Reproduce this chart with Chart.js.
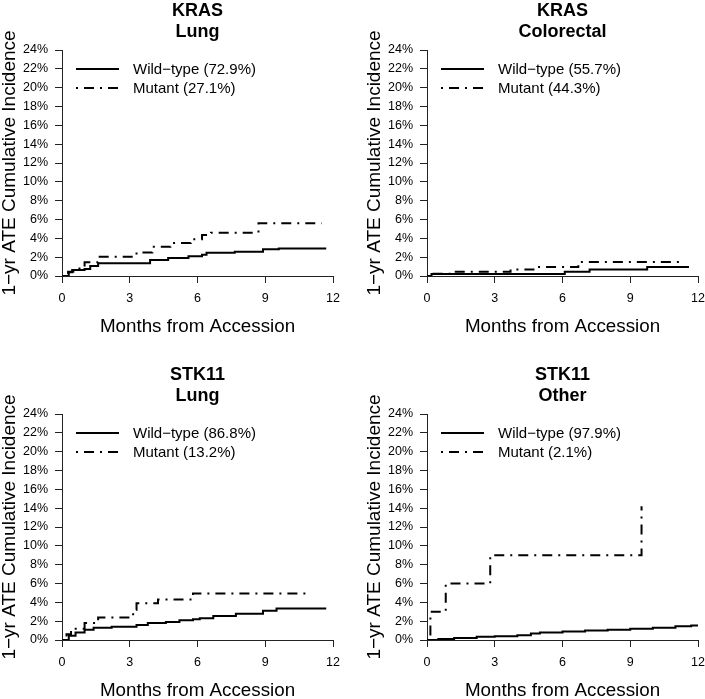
<!DOCTYPE html>
<html>
<head>
<meta charset="utf-8">
<script src="https://cdn.jsdelivr.net/npm/chart.js@4.4.1/dist/chart.umd.min.js"></script>
<style>
  html, body { margin: 0; padding: 0; background: #fff; overflow: hidden; width: 705px; height: 699px; }
  canvas { position: absolute; }
</style>
</head>
<body>
<canvas id="c1" width="365" height="364" style="left:0;top:0"></canvas>
<canvas id="c2" width="365" height="364" style="left:365px;top:0"></canvas>
<canvas id="c3" width="365" height="364" style="left:0;top:364px"></canvas>
<canvas id="c4" width="365" height="364" style="left:365px;top:364px"></canvas>
<script>
// ---- data (months, cumulative incidence %) ----
const xTicks = [0, 3, 6, 9, 12];
const yTickStep = 2;
const yMax = 24;

const krasLungWild   = [[0,0],[0.3,0.4],[0.45,0.65],[1.0,0.75],[1.25,1.05],[1.6,1.35],[3.9,1.7],[4.7,1.9],[5.6,2.1],[6.2,2.25],[6.4,2.47],[7.65,2.58],[8.9,2.83],[9.6,2.93],[11.7,2.93]];
const krasLungMutant = [[0,0],[0.27,0.46],[0.5,0.8],[1.0,1.45],[1.6,2.05],[3.3,2.5],[4.0,3.1],[4.8,3.5],[5.7,3.9],[6.2,4.35],[6.6,4.6],[8.7,5.6],[11.5,5.6]];

const krasCrcWild    = [[0,0],[0.2,0.2],[6.1,0.45],[7.2,0.7],[9.75,0.95],[11.6,0.95]];
const krasCrcMutant  = [[0,0],[0.2,0.25],[1.2,0.45],[3.7,0.7],[4.8,0.95],[6.7,1.5],[11.3,1.5]];

const stkLungWild    = [[0,0],[0.3,0.45],[0.6,0.8],[1.0,1.1],[1.4,1.3],[2.2,1.4],[3.3,1.6],[3.8,1.8],[4.6,1.9],[5.2,2.1],[5.8,2.2],[6.1,2.3],[6.7,2.55],[7.7,2.8],[8.9,3.1],[9.5,3.35],[11.7,3.35]];
const stkLungMutant  = [[0,0],[0.2,0.6],[0.4,1.2],[1.0,1.8],[1.6,2.4],[3.15,3.2],[3.3,3.9],[4.25,4.3],[5.8,4.95],[11.0,4.95]];

const stkOtherWild   = [[0,0],[0.5,0.1],[1.2,0.2],[2.2,0.35],[3.0,0.4],[4.0,0.5],[4.6,0.7],[5.0,0.8],[6.0,0.9],[7.0,1.0],[8.0,1.1],[9.0,1.2],[10.0,1.3],[11.0,1.45],[11.7,1.55],[12.0,1.65]];
const stkOtherMutant = [[0,0],[0.15,3.0],[0.83,6.0],[2.8,9.0],[9.5,14.2]];

const panelTitles = [["KRAS","Lung"],["KRAS","Colorectal"],["STK11","Lung"],["STK11","Other"]];
const legendWild   = ["Wild\u2212type (72.9%)","Wild\u2212type (55.7%)","Wild\u2212type (86.8%)","Wild\u2212type (97.9%)"];
const legendMutant = ["Mutant (27.1%)","Mutant (44.3%)","Mutant (13.2%)","Mutant (2.1%)"];
const xTitle = "Months from Accession";
const yTitle = "1\u2212yr ATE Cumulative Incidence";

const panelData = [
  [krasLungWild, krasLungMutant],
  [krasCrcWild, krasCrcMutant],
  [stkLungWild, stkLungMutant],
  [stkOtherWild, stkOtherMutant]
];

const FONT = "'Liberation Sans', Arial, Helvetica, sans-serif";
const DASH = [2, 6, 10, 6];

function toPts(arr) { return arr.map(p => ({x: p[0], y: p[1]})); }

function textPlugin(idx) {
  return {
    id: 'texts' + idx,
    afterDraw(chart) {
      const ctx = chart.ctx;
      const a = chart.chartArea;
      const cx = (a.left + a.right) / 2;
      ctx.save();
      ctx.fillStyle = '#000';
      // titles
      ctx.font = "bold 18px " + FONT;
      ctx.textAlign = 'center';
      ctx.textBaseline = 'middle';
      ctx.fillText(panelTitles[idx][0], cx, 11);
      ctx.fillText(panelTitles[idx][1], cx, 32);
      // x title
      ctx.font = "18.8px " + FONT;
      ctx.fillText(xTitle, cx, 327);
      // y title
      ctx.save();
      ctx.translate(15, (a.top + a.bottom) / 2);
      ctx.rotate(-Math.PI / 2);
      ctx.textBaseline = 'alphabetic';
      ctx.font = "19px " + FONT;
      ctx.fillText(yTitle, 0, 0);
      ctx.restore();
      // legend
      ctx.strokeStyle = '#000';
      ctx.lineWidth = 2;
      ctx.beginPath(); ctx.moveTo(76, 69); ctx.lineTo(119, 69); ctx.stroke();
      ctx.setLineDash(DASH);
      ctx.beginPath(); ctx.moveTo(76, 88); ctx.lineTo(119, 88); ctx.stroke();
      ctx.setLineDash([]);
      ctx.font = "15px " + FONT;
      ctx.textAlign = 'left';
      ctx.textBaseline = 'middle';
      ctx.fillText(legendWild[idx], 133, 70);
      ctx.fillText(legendMutant[idx], 133, 89);
      ctx.restore();
    }
  };
}

function makeChart(id, idx) {
  const [wild, mut] = panelData[idx];
  new Chart(document.getElementById(id), {
    type: 'line',
    data: {
      datasets: [
        { label: 'Wild-type', data: toPts(wild), borderColor: '#000', borderWidth: 2, pointRadius: 0, stepped: true, fill: false, tension: 0 },
        { label: 'Mutant', data: toPts(mut), borderColor: '#000', borderWidth: 2, borderDash: DASH, pointRadius: 0, stepped: true, fill: false, tension: 0 }
      ]
    },
    options: {
      responsive: false,
      animation: false,
      devicePixelRatio: 1,
      layout: { padding: { left: 0, top: 50, right: 32, bottom: 0 } },
      plugins: { legend: { display: false }, title: { display: false }, tooltip: { enabled: false } },
      scales: {
        x: {
          type: 'linear', min: 0, max: 12,
          afterBuildTicks: s => { s.ticks = xTicks.map(v => ({value: v})); },
          afterFit: s => { s.height = 88; },
          ticks: { color: '#000', font: { size: 12.5, family: FONT }, padding: 8, maxRotation: 0, autoSkip: false },
          grid: { drawOnChartArea: false, drawTicks: true, tickLength: 7, color: '#222' },
          border: { display: true, color: '#222', width: 1 }
        },
        y: {
          type: 'linear', min: 0, max: yMax,
          ticks: { stepSize: yTickStep, color: '#000', font: { size: 12.5, family: FONT }, padding: 7, autoSkip: false, callback: v => v + '%' },
          afterFit: s => { s.width = 62; },
          grid: { drawOnChartArea: false, drawTicks: true, tickLength: 7, color: '#222' },
          border: { display: true, color: '#222', width: 1 }
        }
      }
    },
    plugins: [textPlugin(idx)]
  });
}

makeChart('c1', 0);
makeChart('c2', 1);
makeChart('c3', 2);
makeChart('c4', 3);
</script>
</body>
</html>
